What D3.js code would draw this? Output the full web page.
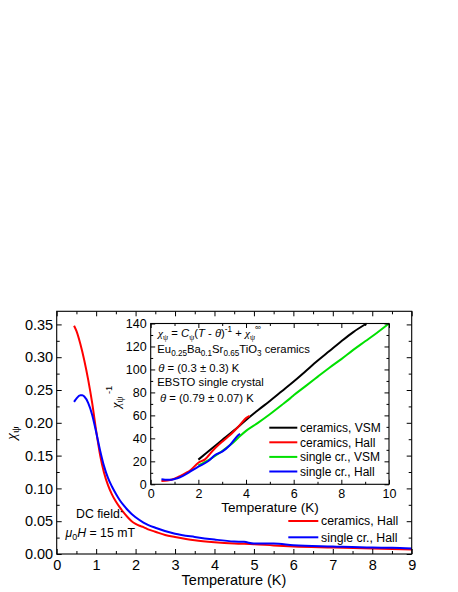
<!DOCTYPE html>
<html><head><meta charset="utf-8">
<script src="https://cdn.jsdelivr.net/npm/d3@7"></script>
<style>body{margin:0;background:#fff}svg{display:block;font-family:"Liberation Sans",Arial,sans-serif}</style>
</head><body><svg id="c" width="458" height="592"></svg>
<script>
// ---- main plot data (chi_psi vs T) ----
const ceramHallT = [0.44,0.5,0.6,0.7,0.8,0.9,1.0,1.1,1.2,1.3,1.4,1.5,1.6,1.7,1.8,1.9,2.0,2.1,2.2,2.3,2.5,2.75,3.0,3.5,4.0,4.5,5.0,5.5,6.0,7.0,8.0,9.0];
const ceramHallChi = [0.348,0.340,0.320,0.295,0.265,0.230,0.188,0.151,0.124,0.105,0.091,0.080,0.071,0.063,0.056,0.050,0.046,0.043,0.041,0.038,0.034,0.029,0.026,0.021,0.018,0.016,0.015,0.013,0.0115,0.0100,0.0085,0.0070];
const singleHallT = [0.44,0.5,0.6,0.65,0.7,0.8,0.9,1.0,1.1,1.2,1.3,1.4,1.5,1.6,1.7,1.8,1.9,2.0,2.2,2.5,3.0,3.5,4.0,4.5,4.75,5.0,5.5,6.0,7.0,8.0,8.5,9.0];
const singleHallChi = [0.232,0.237,0.242,0.242,0.240,0.230,0.212,0.186,0.158,0.134,0.116,0.103,0.092,0.082,0.074,0.067,0.061,0.056,0.048,0.040,0.031,0.026,0.022,0.019,0.0185,0.016,0.016,0.0135,0.0115,0.0098,0.0095,0.0085];
// ---- inset data (1/chi vs T) ----
const ceramVsmT = [2.0,2.5,3.0,3.5,4.0,4.5,5.0,5.5,6.0,6.5,7.0,7.5,8.0,8.5,9.06];
const ceramVsmInv = [21.5,30,38.5,47,56,64.5,72.5,81,89.5,98.5,107.5,116,124.5,132.5,140];
const ceramHallInvT = [0.45,0.6,0.81,1.0,1.23,1.5,1.65,2.0,2.28,2.63,3.0,3.33,3.68,4.03,4.15];
const ceramHallInv = [2.9,3.0,3.7,5.0,7.2,10.2,12.0,18.8,21.7,29.9,37.1,42.9,50.2,58.0,59.5];
const singleVsmT = [2.0,2.5,3.0,3.5,3.75,4.0,4.5,5.0,5.5,5.85,6.0,6.5,7.0,7.5,8.0,8.5,9.0,9.5,10.0];
const singleVsmInv = [16.5,22,29,37,42,46.5,53.5,61,69,74.8,77.5,85.5,93.5,101.5,109,117,124.5,132,140];
const singleHallInvT = [0.45,0.6,0.81,1.0,1.23,1.5,1.65,2.0,2.42,2.7,3.0,3.33,3.68,3.75];
const singleHallInv = [4.3,4.0,3.9,4.6,6.1,9.0,11,15.3,20.3,25.5,28.4,34.2,42.9,44];
// ---- ticks ----
const mainXTicks = [0,1,2,3,4,5,6,7,8,9];
const mainYTicks = [0,0.05,0.10,0.15,0.20,0.25,0.30,0.35];
const insetXTicks = [0,2,4,6,8,10];
const insetYTicks = [0,20,40,60,80,100,120,140];
const mainLegend = ["ceramics, Hall","single cr., Hall"];
const insetLegend = ["ceramics, VSM","ceramics, Hall","single cr., VSM","single cr., Hall"];

const RED="#ff0000", BLUE="#0000ff", BLACK="#000000", GREEN="#00e000";
const svg = d3.select("#c");

// main scales
const x = d3.scaleLinear([0,9],[56.7,411.7]);
const y = d3.scaleLinear([0,0.37],[554,311.3]);
// inset scales
const xi = d3.scaleLinear([0,10],[150.7,389]);
const yi = d3.scaleLinear([0,140],[484.3,323.5]);

function frameAxes(g, xs, ys, xT, yT, xMinor, yMinor, fmtX, fmtY, fs, padX, padY, majL, minL){
  const [x0,x1]=xs.range(), [y0,y1]=ys.range();
  g.append("g").attr("transform",`translate(0,${y0})`)
    .call(d3.axisBottom(xs).tickValues(xMinor).tickSize(-minL).tickFormat("")).call(a=>a.select(".domain").remove());
  g.append("g").attr("transform",`translate(0,${y0})`)
    .call(d3.axisBottom(xs).tickValues(xT).tickSize(-majL).tickPadding(padX).tickFormat(fmtX))
    .call(a=>{a.select(".domain").remove();a.selectAll("text").attr("font-size",fs).attr("font-family","Liberation Sans, Arial");});
  g.append("g").attr("transform",`translate(0,${y1})`)
    .call(d3.axisTop(xs).tickValues(xMinor).tickSize(-minL).tickFormat("")).call(a=>a.select(".domain").remove());
  g.append("g").attr("transform",`translate(0,${y1})`)
    .call(d3.axisTop(xs).tickValues(xT).tickSize(-majL).tickFormat("")).call(a=>a.select(".domain").remove());
  g.append("g").attr("transform",`translate(${x0},0)`)
    .call(d3.axisLeft(ys).tickValues(yMinor).tickSize(-minL).tickFormat("")).call(a=>a.select(".domain").remove());
  g.append("g").attr("transform",`translate(${x0},0)`)
    .call(d3.axisLeft(ys).tickValues(yT).tickSize(-majL).tickPadding(padY).tickFormat(fmtY))
    .call(a=>{a.select(".domain").remove();a.selectAll("text").attr("font-size",fs).attr("font-family","Liberation Sans, Arial");});
  g.append("g").attr("transform",`translate(${x1},0)`)
    .call(d3.axisRight(ys).tickValues(yMinor).tickSize(-minL).tickFormat("")).call(a=>a.select(".domain").remove());
  g.append("g").attr("transform",`translate(${x1},0)`)
    .call(d3.axisRight(ys).tickValues(yT).tickSize(-majL).tickFormat("")).call(a=>a.select(".domain").remove());
  g.selectAll(".tick line").attr("stroke","#000").attr("stroke-width",1);
  g.append("rect").attr("x",x0).attr("y",y1).attr("width",x1-x0).attr("height",y0-y1)
    .attr("fill","none").attr("stroke","#000").attr("stroke-width",1.1);
}

function rich(sel, parts){
  let shift=0;
  parts.forEach(p=>{
    const ts = sel.append("tspan").text(p.t);
    let target = p.sub ? p.sub : (p.sup ? -p.sup : 0);
    if(target!==shift){ ts.attr("dy", target-shift); shift=target; }
    if(p.sub||p.sup) ts.attr("font-size", p.fs||"0.72em");
    if(p.it) ts.attr("font-style","italic");
    if(p.serif) ts.attr("font-family","Liberation Serif, Times New Roman");
  });
  return sel;
}

// ---- main plot ----
const gm = svg.append("g");
const mainXMinor = d3.range(0,9.01,0.5).filter(v=>!mainXTicks.includes(v));
const mainYMinor = d3.range(0,0.37,0.025).filter(v=>Math.abs(v/0.05-Math.round(v/0.05))>0.1);
const lineM = d3.line().x(d=>x(d[0])).y(d=>y(d[1])).curve(d3.curveMonotoneX);
gm.append("path").datum(d3.zip(ceramHallT,ceramHallChi)).attr("d",lineM).attr("fill","none").attr("stroke",RED).attr("stroke-width",2);
gm.append("path").datum(d3.zip(singleHallT,singleHallChi)).attr("d",lineM).attr("fill","none").attr("stroke",BLUE).attr("stroke-width",2);
frameAxes(gm, x, y, mainXTicks, mainYTicks, mainXMinor, mainYMinor, d3.format("d"), d3.format(".2f"), 14.5, 5.5, 3.5, 5, 3);

gm.append("text").attr("x",234).attr("y",585).attr("text-anchor","middle").attr("font-size",14.5).text("Temperature (K)");
rich(gm.append("text").attr("transform","translate(16,433) rotate(-90)").attr("text-anchor","middle").attr("font-size",15),
  [{t:"χ",it:true,serif:true},{t:"ψ",sub:3,serif:true}]);

[RED,BLUE].forEach((c,i)=>{
  const yy=[521,537.3][i];
  gm.append("line").attr("x1",288.3).attr("x2",318.3).attr("y1",yy).attr("y2",yy).attr("stroke",c).attr("stroke-width",2);
  gm.append("text").attr("x",321).attr("y",yy+4.3).attr("font-size",12.3).text(mainLegend[i]);
});
gm.append("text").attr("x",76).attr("y",518.3).attr("font-size",12.3).text("DC field:");
rich(gm.append("text").attr("x",65.5).attr("y",537.3).attr("font-size",12.3),
  [{t:"μ",it:true},{t:"0",sub:3},{t:"H",it:true},{t:" = 15 mT"}]);

// ---- inset ----
const gi = svg.append("g");
gi.append("rect").attr("x",150.7).attr("y",323.5).attr("width",389-150.7).attr("height",484.3-323.5).attr("fill","#fff");
const insXMinor = d3.range(1,10,2);
const insYMinor = d3.range(10,140,20);
const lineI = d3.line().x(d=>xi(d[0])).y(d=>yi(d[1])).curve(d3.curveMonotoneX);
gi.append("path").datum(d3.zip(ceramVsmT,ceramVsmInv)).attr("d",lineI).attr("fill","none").attr("stroke",BLACK).attr("stroke-width",2);
gi.append("path").datum(d3.zip(singleVsmT,singleVsmInv)).attr("d",lineI).attr("fill","none").attr("stroke",GREEN).attr("stroke-width",2);
gi.append("path").datum(d3.zip(ceramHallInvT,ceramHallInv)).attr("d",lineI).attr("fill","none").attr("stroke",RED).attr("stroke-width",2);
gi.append("path").datum(d3.zip(singleHallInvT,singleHallInv)).attr("d",lineI).attr("fill","none").attr("stroke",BLUE).attr("stroke-width",2);
frameAxes(gi, xi, yi, insetXTicks, insetYTicks, insXMinor, insYMinor, d3.format("d"), d3.format("d"), 12.5, 4.8, 4, 4.5, 2.5);

gi.append("text").attr("x",270).attr("y",511.5).attr("text-anchor","middle").attr("font-size",13.5).text("Temperature (K)");
rich(gi.append("text").attr("transform","translate(120,397) rotate(-90)").attr("text-anchor","middle").attr("font-size",13),
  [{t:"χ",it:true,serif:true},{t:"ψ",sub:3,serif:true},{t:" -1",sup:8}]);

[BLACK,RED,GREEN,BLUE].forEach((c,i)=>{
  const yy=[427.7,442.3,456.9,471.5][i];
  gi.append("line").attr("x1",269.3).attr("x2",297.3).attr("y1",yy).attr("y2",yy).attr("stroke",c).attr("stroke-width",2);
  gi.append("text").attr("x",300).attr("y",yy+4.2).attr("font-size",12).text(insetLegend[i]);
});

const fsA = 11.3;
rich(gi.append("text").attr("x",158).attr("y",337).attr("font-size",fsA),
  [{t:"χ",it:true,serif:true},{t:"ψ",sub:2.5,serif:true},{t:" = "},{t:"C",it:true},{t:"ψ",sub:2.5,serif:true},{t:"("},{t:"T",it:true},{t:" - "},{t:"θ",it:true},{t:")"},{t:"-1",sup:5},{t:" + "},{t:"χ",it:true,serif:true},{t:"ψ",sub:2.5,serif:true},{t:"∞",sup:7}]);
rich(gi.append("text").attr("x",157.3).attr("y",353.3).attr("font-size",fsA),
  [{t:"Eu"},{t:"0.25",sub:2.5},{t:"Ba"},{t:"0.1",sub:2.5},{t:"Sr"},{t:"0.65",sub:2.5},{t:"TiO"},{t:"3",sub:2.5},{t:" ceramics"}]);
rich(gi.append("text").attr("x",158.3).attr("y",371.5).attr("font-size",fsA),
  [{t:"θ",it:true},{t:" = (0.3 ± 0.3) K"}]);
gi.append("text").attr("x",157.3).attr("y",386.3).attr("font-size",fsA).text("EBSTO single crystal");
rich(gi.append("text").attr("x",160).attr("y",401.7).attr("font-size",fsA),
  [{t:"θ",it:true},{t:" = (0.79 ± 0.07) K"}]);
</script></body></html>
